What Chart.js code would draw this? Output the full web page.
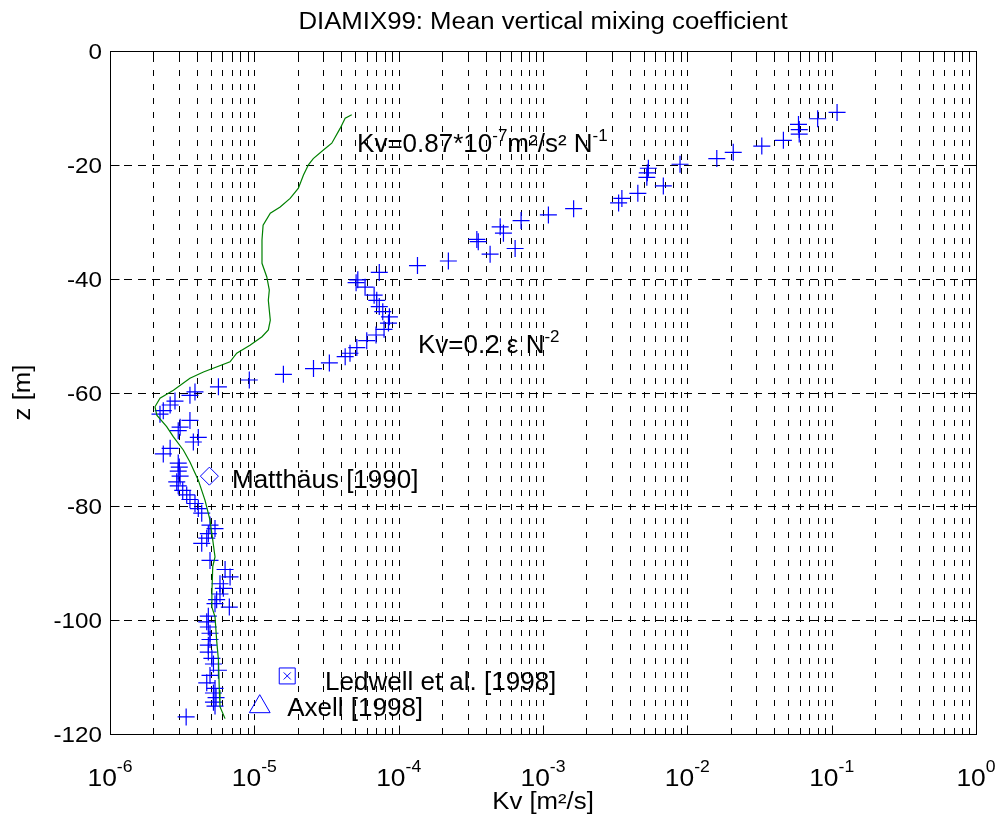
<!DOCTYPE html>
<html><head><meta charset="utf-8">
<script src="https://cdn.jsdelivr.net/npm/chart.js@4/dist/chart.umd.min.js"></script>
<style>html,body{margin:0;padding:0;background:#fff;overflow:hidden}#wrap{width:999px;height:814px}</style>
</head><body><div id="wrap"><canvas id="c" width="999" height="814"></canvas></div>
<script>
const chartTitle = 'DIAMIX99: Mean vertical mixing coefficient';
const xTitle = 'Kv [m²/s]';
const yTitle = 'z [m]';
const xDecades = [-6, -5, -4, -3, -2, -1, 0];
const yTicks = [0, -20, -40, -60, -80, -100, -120];

// Kv = 0.2 eps N^-2 (crosses)
const kvObs = [0.109,0.080,0.0589,0.0596,0.0596,0.0463,0.0328,0.0208,0.0160,0.0089,
 0.00537,0.00528,0.00524,0.00682,0.00454,0.00352,0.00334,0.00163,0.00109,0.000705,
 0.000505,0.000532,0.000348,0.000356,0.000641,0.000430,0.000221,0.000135,7.34e-5,5.21e-5,
 5.07e-5,5.85e-5,6.76e-5,7.05e-5,7.34e-5,7.76e-5,8.63e-5,8.5e-5,7.92e-5,6.97e-5,
 6.01e-5,5.13e-5,4.60e-5,4.26e-5,3.31e-5,2.57e-5,1.59e-5,9.23e-6,5.64e-6,3.88e-6,
 3.58e-6,2.82e-6,2.61e-6,2.34e-6,2.22e-6,3.58e-6,3.06e-6,2.97e-6,4.09e-6,3.78e-6,
 2.61e-6,2.34e-6,2.97e-6,3.02e-6,2.97e-6,3.06e-6,2.90e-6,2.97e-6,3.19e-6,3.40e-6,
 3.58e-6,3.88e-6,4.09e-6,4.32e-6,4.93e-6,5.34e-6,4.80e-6,4.68e-6,4.32e-6,4.93e-6,
 6.27e-6,6.79e-6,5.78e-6,6.10e-6,5.78e-6,5.48e-6,5.34e-6,6.71e-6,4.80e-6,4.68e-6,
 4.80e-6,4.93e-6,4.93e-6,4.80e-6,4.80e-6,5.08e-6,5.21e-6,5.64e-6,4.93e-6,4.68e-6,
 5.34e-6,5.21e-6,5.43e-6,5.21e-6,5.34e-6,3.37e-6];
const zObs = [-10.8,-11.9,-12.9,-13.8,-14.6,-15.7,-16.7,-17.8,-18.9,-19.9,
 -20.6,-21.4,-22.2,-23.7,-25.0,-25.9,-26.7,-27.7,-28.8,-29.8,
 -30.9,-32.0,-33.1,-33.5,-34.7,-35.7,-36.9,-37.7,-38.9,-40.2,
 -40.7,-41.5,-42.9,-43.8,-44.9,-45.8,-46.7,-47.8,-48.9,-49.9,
 -50.9,-52.1,-53.1,-53.7,-54.8,-55.8,-56.8,-57.8,-59.0,-59.9,
 -60.5,-61.5,-62.2,-63.2,-63.8,-64.9,-66.1,-66.7,-67.9,-68.7,
 -69.8,-70.8,-72.4,-73.1,-73.8,-74.7,-75.7,-76.4,-77.2,-78.0,
 -78.8,-79.5,-80.4,-81.2,-83.3,-83.9,-84.8,-85.6,-86.5,-89.5,
 -91.1,-92.4,-93.6,-94.4,-95.4,-96.4,-97.1,-97.7,-99.3,-100.3,
 -101.2,-102.3,-103.4,-104.4,-105.6,-106.7,-107.7,-108.8,-109.7,-111.0,
 -112.0,-112.8,-113.6,-114.4,-115.1,-117.0];

// Kv = 0.87e-7 N^-1 (green line)
const kvModel = [4.73e-5,4.26e-5,3.93e-5,3.44e-5,3.01e-5,2.56e-5,2.37e-5,2.19e-5,2.02e-5,1.77e-5,
 1.51e-5,1.29e-5,1.15e-5,1.13e-5,1.13e-5,1.22e-5,1.27e-5,1.25e-5,1.29e-5,1.25e-5,
 1.13e-5,9.33e-6,7.55e-6,6.79e-6,4.44e-6,3.58e-6,2.75e-6,2.22e-6,2.05e-6,2.11e-6,
 2.47e-6,2.75e-6,3.22e-6,3.58e-6,4.09e-6,4.55e-6,4.93e-6,5.15e-6,5.34e-6,5.15e-6,
 5.08e-6,5.08e-6,5.34e-6,5.48e-6,5.64e-6,5.72e-6,5.78e-6,6.27e-6];
const zModel = [-11.2,-11.8,-13.6,-16.2,-17.4,-18.9,-20.0,-21.8,-24.1,-25.9,
 -27.4,-28.5,-30.6,-33.2,-37.3,-39.7,-42.0,-43.8,-47.3,-49.0,
 -50.2,-51.7,-53.1,-54.6,-56.4,-57.5,-59.6,-61.0,-62.5,-64.0,
 -66.0,-67.8,-70.1,-72.2,-75.4,-78.9,-82.4,-85.9,-88.9,-90.6,
 -95.3,-97.7,-99.4,-103.5,-107.0,-112.3,-115.2,-117.3];

const matthausKv = [4.88e-6], matthausZ = [-74.7];
const ledwellKv = [1.69e-5], ledwellZ = [-109.8];
const axellKv = [1.09e-5], axellZ = [-115.2];

const FONT = '"Liberation Sans", Arial, Helvetica, sans-serif';
const BLUE = '#0000ff';
const pts = (xs, ys) => xs.map((v, i) => ({x: v, y: ys[i]}));

// annotations: [segments, kv anchor (left), z anchor (baseline)]
const notes = [
  {segs: [['Kv=0.87*10', 0], ['-7', 1], ['m²/s² N', 0], ['-1', 1]], kv: 5.15e-5, z: -17.75},
  {segs: [['Kv=0.2 ε N', 0], ['-2', 1]], kv: 1.36e-4, z: -53.1},
  {segs: [['Matthäus [1990]', 0]], kv: 7.0e-6, z: -76.8},
  {segs: [['Ledwell et al. [1998]', 0]], kv: 3.09e-5, z: -112.2},
  {segs: [['Axell [1998]', 0]], kv: 1.69e-5, z: -116.9}
];

function drawSegs(ctx, segs, x, y, size, supSize, rise, sx, align) {
  ctx.save();
  ctx.textBaseline = 'alphabetic';
  ctx.textAlign = 'left';
  let w = 0;
  for (const [t, s] of segs) { ctx.font = (s ? supSize : size) + 'px ' + FONT; w += ctx.measureText(t).width; }
  ctx.translate(x, y); ctx.scale(sx, 1);
  let cx = align === 'center' ? -w / 2 : (align === 'right' ? -w : 0);
  for (const [t, s] of segs) {
    ctx.font = (s ? supSize : size) + 'px ' + FONT;
    ctx.fillText(t, cx, s ? -rise : 0);
    cx += ctx.measureText(t).width;
  }
  ctx.restore();
}

const frame = {
  id: 'frame',
  beforeDraw(chart) {
    const c = chart.ctx; c.save(); c.fillStyle = '#fff'; c.fillRect(0, 0, chart.width, chart.height); c.restore();
  },
  beforeDatasetsDraw(chart) {
    const {ctx, chartArea: a, scales: {x, y}} = chart;
    ctx.save(); ctx.strokeStyle = '#000'; ctx.lineWidth = 1;
    ctx.setLineDash([6, 8]);
    for (let d = xDecades[0]; d < xDecades[xDecades.length - 1]; d++) {
      for (let m = 1; m <= 9; m++) {
        const v = m * Math.pow(10, d);
        if (d === xDecades[0] && m === 1) continue;
        const px = Math.round(x.getPixelForValue(v)) + 0.5;
        ctx.beginPath(); ctx.moveTo(px, a.bottom); ctx.lineTo(px, a.top); ctx.stroke();
      }
    }
    ctx.setLineDash([8, 6]);
    for (const v of yTicks) {
      if (v === 0 || v === -120) continue;
      const py = Math.round(y.getPixelForValue(v)) + 0.5;
      ctx.beginPath(); ctx.moveTo(a.left, py); ctx.lineTo(a.right, py); ctx.stroke();
    }
    ctx.restore();
  },
  afterDatasetsDraw(chart) {
    const {ctx, chartArea: a, scales: {x, y}} = chart;
    ctx.save();
    ctx.strokeStyle = '#000'; ctx.lineWidth = 1; ctx.setLineDash([]);
    const L = Math.round(a.left) + 0.5, R = Math.round(a.right) + 0.5, T = Math.round(a.top) + 0.5, B = Math.round(a.bottom) + 0.5;
    ctx.strokeRect(L, T, R - L, B - T);
    // inner ticks
    ctx.beginPath();
    for (let d = xDecades[0]; d < xDecades[xDecades.length - 1]; d++) {
      for (let m = 1; m <= 9; m++) {
        const px = Math.round(x.getPixelForValue(m * Math.pow(10, d))) + 0.5;
        const len = m === 1 ? 9 : 5;
        ctx.moveTo(px, B); ctx.lineTo(px, B - len);
        ctx.moveTo(px, T); ctx.lineTo(px, T + len);
      }
    }
    for (const v of yTicks) {
      const py = Math.round(y.getPixelForValue(v)) + 0.5;
      ctx.moveTo(L, py); ctx.lineTo(L + 9, py);
      ctx.moveTo(R, py); ctx.lineTo(R - 9, py);
    }
    ctx.stroke();
    ctx.fillStyle = '#000';
    // y tick labels
    for (const v of yTicks) {
      drawSegs(ctx, [[String(v), 0]], a.left - 8, y.getPixelForValue(v) + 8, 22, 15, 0, 1.1, 'right');
    }
    // x tick labels
    for (const d of xDecades) {
      drawSegs(ctx, [['10', 0], [String(d), 1]], x.getPixelForValue(Math.pow(10, d)), 786, 24, 16, 14, 1.1, 'center');
    }
    // titles
    drawSegs(ctx, [[chartTitle, 0]], (a.left + a.right) / 2, 29, 23, 15, 0, 1.12, 'center');
    drawSegs(ctx, [[xTitle, 0]], (a.left + a.right) / 2, 809, 23, 15, 0, 1.12, 'center');
    ctx.save();
    ctx.translate(30, (a.top + a.bottom) / 2);
    ctx.rotate(-Math.PI / 2);
    drawSegs(ctx, [[yTitle, 0]], 0, 0, 23, 15, 0, 1.12, 'center');
    ctx.restore();
    // annotations
    for (const n of notes) {
      drawSegs(ctx, n.segs, x.getPixelForValue(n.kv), y.getPixelForValue(n.z), 26, 17, 11, 1.0, 'left');
    }
    ctx.restore();
  }
};

new Chart(document.getElementById('c'), {
  type: 'scatter',
  data: {
    datasets: [
      {label: 'Kv=0.87e-7 N^-1', data: pts(kvModel, zModel), showLine: true, borderColor: '#008000', borderWidth: 1.2, pointRadius: 0, fill: false, tension: 0},
      {label: 'Kv=0.2 eps N^-2', data: pts(kvObs, zObs), showLine: false, pointStyle: 'cross', pointRadius: 8.5, borderColor: BLUE, backgroundColor: BLUE, pointBorderWidth: 1.2, borderWidth: 1.2},
      {label: 'Matthäus [1990]', data: pts(matthausKv, matthausZ), pointStyle: 'rectRot', pointRadius: 9, borderColor: BLUE, backgroundColor: 'rgba(0,0,0,0)', borderWidth: 1},
      {label: 'Ledwell et al. [1998]', data: pts(ledwellKv, ledwellZ), pointStyle: 'rect', pointRadius: 11.3, borderColor: BLUE, backgroundColor: 'rgba(0,0,0,0)', borderWidth: 1},
      {label: 'Ledwell et al. [1998] x', data: pts(ledwellKv, ledwellZ), pointStyle: 'crossRot', pointRadius: 5, borderColor: BLUE, backgroundColor: BLUE, borderWidth: 1},
      {label: 'Axell [1998]', data: pts(axellKv, axellZ), pointStyle: 'triangle', pointRadius: 12, borderColor: BLUE, backgroundColor: 'rgba(0,0,0,0)', borderWidth: 1}
    ]
  },
  options: {
    responsive: false, animation: false, devicePixelRatio: 1,
    layout: {padding: {left: 110, right: 23, top: 51, bottom: 80}},
    plugins: {legend: {display: false}, title: {display: false}, tooltip: {enabled: false}},
    scales: {
      x: {type: 'logarithmic', min: 1e-6, max: 1, display: false},
      y: {type: 'linear', min: -120, max: 0, display: false}
    }
  },
  plugins: [frame]
});
</script></body></html>
